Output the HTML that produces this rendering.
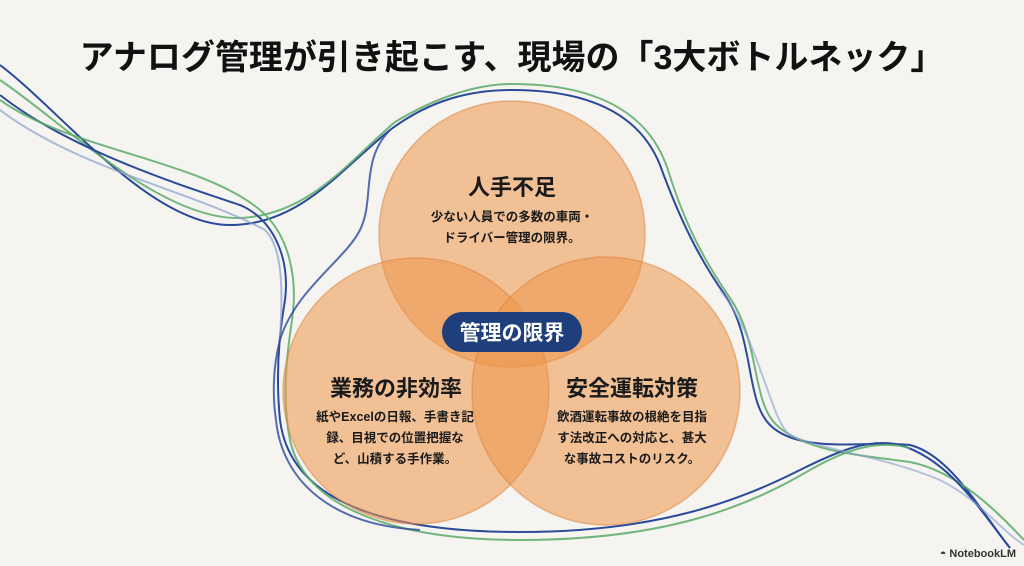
<!DOCTYPE html>
<html><head><meta charset="utf-8"><style>
body{margin:0;width:1024px;height:566px;background:#f5f4f0;overflow:hidden;position:relative;font-family:"Liberation Sans","Noto Sans CJK JP",sans-serif;}
.t{position:absolute;left:0;width:1024px;top:30px;text-align:center;font-size:34px;font-weight:bold;color:#111;letter-spacing:0px}
.l{position:absolute;text-align:center;color:#1a1a1a;font-weight:bold}
</style></head><body>
<svg width="1024" height="566" style="position:absolute;left:0;top:0">
<g fill="none" stroke-width="2">
<path d="M0,65 C60,110 150,225 230,225 C300,225 340,170 390,130 C430,100 470,90 512,90 C590,90 640,115 660,165 C680,220 700,260 725,295 C755,340 745,400 770,425 C800,455 870,440 910,445 C950,455 980,510 1010,548" stroke="#2a4a9a"/>
<path d="M0,80 C60,120 160,220 240,218 C310,215 350,160 395,122 C440,95 480,84 512,84 C600,84 650,115 668,170 C685,225 705,262 730,298 C762,345 750,405 780,428 C810,452 860,455 910,462 C960,472 1000,515 1024,540" stroke="#5aaa6a" opacity="0.85"/>
<path d="M0,95 C70,150 180,185 240,205 C275,220 290,260 285,300 C278,340 276,380 280,420 C290,500 380,532 520,532 C660,532 740,500 800,470 C840,450 870,438 900,445 C950,460 980,510 1010,548" stroke="#2a4a9a"/>
<path d="M0,100 C70,150 200,160 260,210 C290,235 298,280 292,320 C286,360 282,400 290,440 C305,510 400,540 520,540 C670,540 750,505 810,470 C850,447 880,440 910,448" stroke="#5aaa6a" opacity="0.85"/>
<path d="M0,110 C80,170 190,190 265,230 C285,250 282,300 280,340" stroke="#8aa0d0" opacity="0.7"/>
<path d="M390,130 C360,160 375,200 360,230 C345,260 295,290 280,340 C272,370 273,400 276,420 C282,480 330,525 420,530" stroke="#2a4a9a" opacity="0.8"/>
<path d="M720,290 C760,340 770,420 790,435 C820,450 880,455 940,480 C980,500 1000,530 1024,545" stroke="#8aa0d0" opacity="0.6"/>
</g>
<g fill="rgba(236,150,75,0.55)" stroke="rgba(220,130,60,0.5)" stroke-width="1.5">
<circle cx="512" cy="234" r="133"/>
<circle cx="416" cy="391" r="133"/>
<circle cx="606" cy="391" r="134"/>
</g>
<rect x="442" y="312" width="140" height="40" rx="20" fill="#1f3f7c"/>
<text x="512" y="340" text-anchor="middle" font-size="21" font-weight="bold" fill="#fff" font-family="Liberation Sans,Noto Sans CJK JP,sans-serif">管理の限界</text>
</svg>
<div class="t">アナログ管理が引き起こす、現場の「3大ボトルネック」</div>
<div class="l" style="left:412px;width:200px;top:170px;font-size:22px">人手不足</div>
<div class="l" style="left:392px;width:240px;top:207px;font-size:12.5px;line-height:21px">少ない人員での多数の車両・<br>ドライバー管理の限界。</div>
<div class="l" style="left:296px;width:200px;top:371px;font-size:22px">業務の非効率</div>
<div class="l" style="left:300px;width:190px;top:407px;font-size:12.5px;line-height:21px">紙やExcelの日報、手書き記<br>録、目視での位置把握な<br>ど、山積する手作業。</div>
<div class="l" style="left:532px;width:200px;top:371px;font-size:22px">安全運転対策</div>
<div class="l" style="left:532px;width:200px;top:407px;font-size:12.5px;line-height:21px">飲酒運転事故の根絶を目指<br>す法改正への対応と、甚大<br>な事故コストのリスク。</div>
<div style="position:absolute;right:8px;bottom:6px;font-size:11px;color:#333;font-weight:bold">◓ NotebookLM</div>
</body></html>
